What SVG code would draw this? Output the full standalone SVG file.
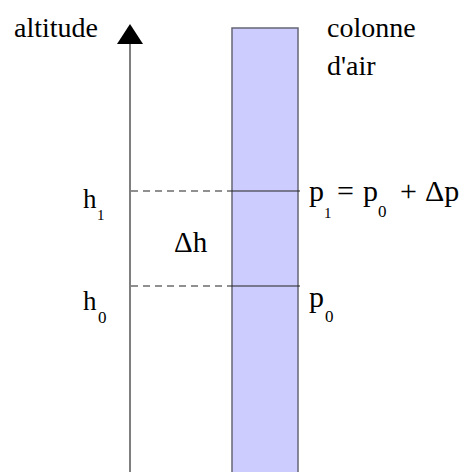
<svg xmlns="http://www.w3.org/2000/svg" width="470" height="472" viewBox="0 0 470 472">
<style>
.ax{stroke:#555;stroke-width:1.5;fill:none}
.lvl{stroke:#222;stroke-width:1.2;fill:none}
.dash{stroke:#222;stroke-width:1.2;stroke-dasharray:7,5;fill:none}
</style>
<rect width="470" height="472" fill="#fff"/>
<g id="column">
<rect x="232" y="28" width="66" height="460" fill="#ccccff" stroke="#666677" stroke-width="1.5"/>
</g>
<g id="axis">
<line class="ax" x1="130" y1="44" x2="130" y2="472"/>
<polygon points="130,24 117,44 143,44" fill="#000"/>
</g>
<g id="connectors">
<line class="dash" x1="131" y1="191" x2="232" y2="191"/>
<line class="lvl" x1="232" y1="191" x2="300" y2="191"/>
<line class="dash" x1="131" y1="286" x2="232" y2="286"/>
<line class="lvl" x1="232" y1="286" x2="300" y2="286"/>
</g>
<g id="labels">
<text x="14" y="37" font-family="Liberation Serif" font-size="28">altitude</text>
<text x="327" y="37" font-family="Liberation Serif" font-size="28">colonne</text>
<text x="327" y="75" font-family="Liberation Serif" font-size="28">d'air</text>
<text x="83" y="208" font-family="Liberation Serif" font-size="27">h<tspan x="97" y="220" font-size="15">1</tspan></text>
<text x="174" y="252" font-family="Liberation Serif" font-size="29">Δh</text>
<text x="83" y="310" font-family="Liberation Serif" font-size="27">h<tspan x="98" y="323" font-size="17">0</tspan></text>
<text x="309" y="201" font-family="Liberation Serif" font-size="30">p<tspan x="324" y="218" font-size="15">1</tspan><tspan x="337" y="201">=</tspan><tspan x="363" y="201">p</tspan><tspan x="378" y="217" font-size="17">0</tspan><tspan x="400" y="201">+</tspan><tspan x="425" y="201">Δp</tspan></text>
<text x="309" y="307" font-family="Liberation Serif" font-size="30">p<tspan x="325" y="322" font-size="17">0</tspan></text>
</g>
</svg>
